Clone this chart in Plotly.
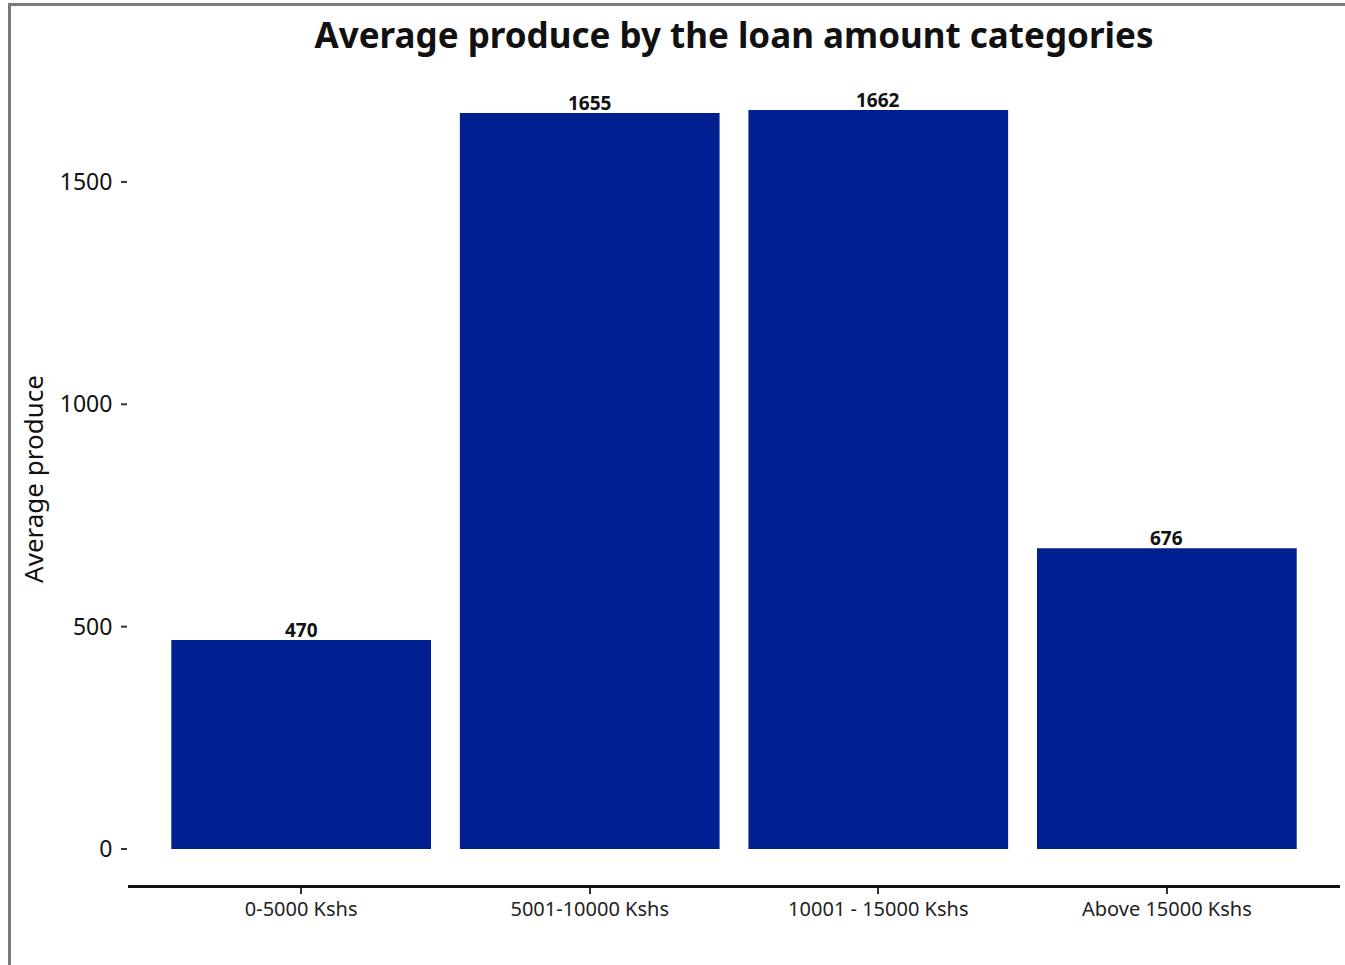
import plotly.graph_objects as go

categories = ["0-5000 Kshs", "5001-10000 Kshs", "10001 - 15000 Kshs", "Above 15000 Kshs"]
avg_produce = [470, 1655, 1662, 676]
y_ticks = [0, 500, 1000, 1500]

FONT = "Noto Sans"
BAR_COLOR = "#001F91"

fig = go.Figure(
    go.Bar(
        x=categories,
        y=avg_produce,
        width=0.9,
        marker=dict(color=BAR_COLOR, line=dict(width=0)),
        hoverinfo="x+y",
    )
)

# Value labels above each bar
for cat, val in zip(categories, avg_produce):
    fig.add_annotation(
        x=cat, y=val, xref="x", yref="y",
        text=f"<b>{val}</b>",
        showarrow=False,
        yanchor="bottom",
        yshift=-5,
        font=dict(family=FONT, size=19, color="#111111"),
    )

fig.update_layout(
    width=1345,
    height=965,
    margin=dict(l=128, r=5, t=73, b=80),
    paper_bgcolor="white",
    plot_bgcolor="white",
    showlegend=False,
    font=dict(family=FONT, color="#111111"),
    title=dict(
        text="<b>Average produce by the loan amount categories</b>",
        x=(128 + 1340) / 2 / 1345,
        xanchor="center",
        y=1 - 36 / 965,
        yanchor="middle",
        font=dict(family=FONT, size=35, color="#111111"),
    ),
    xaxis=dict(
        range=[-0.6, 3.6],
        showline=True,
        linecolor="#111111",
        linewidth=2.5,
        ticks="outside",
        ticklen=6,
        tickwidth=2,
        tickcolor="#333333",
        showgrid=False,
        zeroline=False,
        ticklabelstandoff=-2,
        tickfont=dict(family=FONT, size=20, color="#222222"),
    ),
    yaxis=dict(
        range=[-81, 1745],
        tickvals=y_ticks,
        ticktext=[f"{v} " for v in y_ticks],
        ticks="outside",
        ticklen=0,
        ticklabelstandoff=4,
        showline=False,
        showgrid=False,
        zeroline=False,
        tickfont=dict(family=FONT, size=23, color="#111111"),
        title=dict(text="Average produce", font=dict(family=FONT, size=26, color="#111111"), standoff=8),
    ),
)

# Y tick marks drawn as short dashes beside the labels
for v in y_ticks:
    fig.add_shape(
        type="line", xref="paper", yref="y",
        x0=-7 / 1212, x1=-1 / 1212, y0=v, y1=v,
        line=dict(color="#333333", width=2),
    )

# Outer frame along the top and left edges
fig.add_shape(
    type="rect", xref="paper", yref="paper",
    x0=(9.5 - 128) / 1212, x1=(1400 - 128) / 1212,
    y0=-0.2, y1=(885 - 4.5) / 812,
    line=dict(color="#7a7a7a", width=3),
    fillcolor="rgba(0,0,0,0)",
    layer="above",
)

fig.write_html("out.html")
